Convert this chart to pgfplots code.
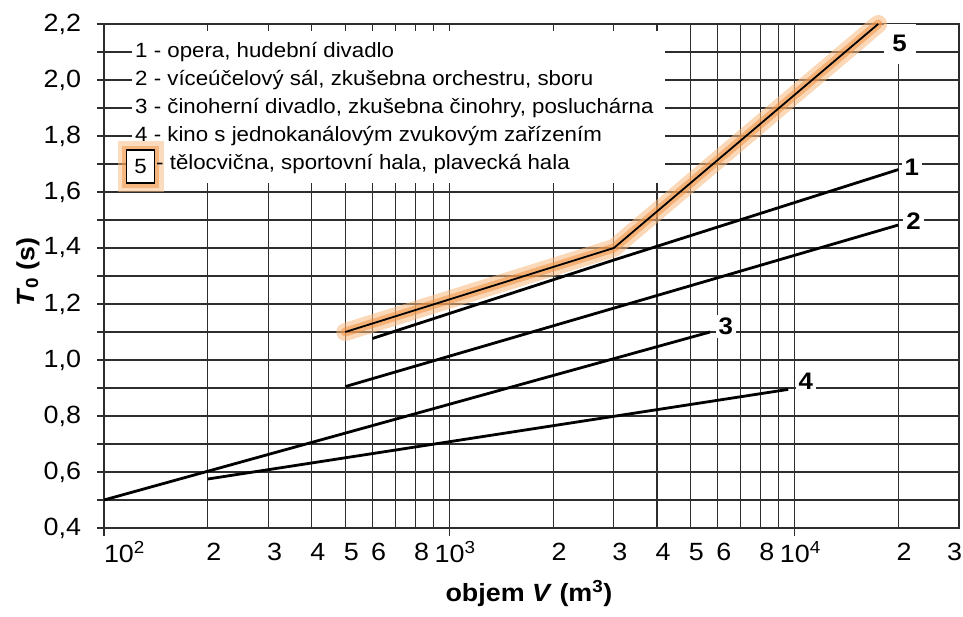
\documentclass[border=0pt]{standalone}
\usepackage{fontspec}
\setmainfont{Liberation Sans}[FakeStretch=1.08]
\usepackage{pgfplots}
\pgfplotsset{compat=1.18}
\definecolor{gridc}{RGB}{45,45,45}
\definecolor{glowA}{RGB}{248,185,125}
\definecolor{glowB}{RGB}{240,145,65}
\newcommand{\tickfont}{\fontsize{25}{30}\selectfont}
\newcommand{\legfont}{\fontsize{20.7}{24}\selectfont}
\newcommand{\labfont}{\fontsize{24}{28}\selectfont\bfseries}
\begin{document}
\begin{tikzpicture}
\useasboundingbox (-104bp,-89bp) rectangle (859bp,528bp);
\begin{axis}[
  scale only axis, width=855bp, height=504bp,
  xmode=log, xmin=100, xmax=30000, ymin=0.4, ymax=2.2,
  clip=false,
  axis line style={gridc, line width=1.4bp},
  grid=both,
  major grid style={gridc, line width=1.1bp},
  minor grid style={gridc, line width=1.1bp},
  tick align=outside, major tick length=7.5bp, minor tick length=0pt,
  tick style={gridc, line width=1.1bp},
  tick pos=left,
  xtick={100,1000,10000},
  xticklabels={\makebox[0pt][l]{\hspace{-6bp}10\textsuperscript{2}},10\textsuperscript{3},10\textsuperscript{4}},
  minor xtick={200,300,400,500,600,700,800,900,2000,3000,4000,5000,6000,7000,8000,9000,20000},
  extra x ticks={200,300,400,500,600,800,2000,3000,4000,5000,6000,8000,20000,30000},
  extra x tick labels={2,3,4,5,6,8,2,3,4,5,6,8,2,\makebox[0pt][r]{3\hspace{3bp}}},
  extra x tick style={major tick length=0pt, grid=none, xticklabel style={yshift=-6bp}},
  xticklabel style={font=\tickfont, anchor=base, yshift=-26.5bp, xshift=6bp},
  ytick={0.4,0.5,0.6,0.7,0.8,0.9,1.0,1.1,1.2,1.3,1.4,1.5,1.6,1.7,1.8,1.9,2.0,2.1,2.2},
  yticklabels={{0,4},{},{0,6},{},{0,8},{},{1,0},{},{1,2},{},{1,4},{},{1,6},{},{1,8},{},{2,0},{},{2,2}},
  yticklabel style={font=\tickfont, xshift=-12bp},
  xlabel={objem \textit{V} (m\textsuperscript{3})},
  xlabel style={at={(axis description cs:0.497,0)}, anchor=base, yshift=-73bp, font=\fontsize{25}{30}\selectfont\bfseries},
  ylabel={\textit{T}\textsubscript{0} (s)},
  ylabel style={at={(axis description cs:-0.089,0.508)}, anchor=center, font=\fontsize{25}{30}\selectfont\bfseries},
]
% legend area (white panel over the grid)
\fill[white] (axis cs:120.5,2.175) rectangle (axis cs:4214,1.632);
\node[anchor=base west, inner sep=0pt, yshift=-6bp, font=\legfont] at (axis cs:123,2.1) {1 - opera, hudební divadlo};
\node[anchor=base west, inner sep=0pt, yshift=-6bp, font=\legfont] at (axis cs:123,2.0) {2 - víceúčelový sál, zkušebna orchestru, sboru};
\node[anchor=base west, inner sep=0pt, yshift=-6bp, font=\legfont] at (axis cs:123,1.9) {3 - činoherní divadlo, zkušebna činohry, posluchárna};
\node[anchor=base west, inner sep=0pt, yshift=-6bp, font=\legfont] at (axis cs:123,1.8) {4 - kino s jednokanálovým zvukovým zařízením};
\node[draw=glowA, line width=18bp, opacity=0.5, minimum width=28bp, minimum height=33bp, inner sep=0pt] at (axis cs:127.6,1.69) {};
\node[draw=glowB, line width=9bp, opacity=0.5, minimum width=28bp, minimum height=33bp, inner sep=0pt] at (axis cs:127.6,1.69) {};
\node[draw=black, fill=white, line width=1.8bp, minimum width=28bp, minimum height=33bp, inner sep=0pt, font=\legfont] at (axis cs:127.6,1.69) {5};
\node[anchor=base west, inner sep=0pt, yshift=-6bp, font=\legfont] at (axis cs:141.5,1.7) {- tělocvična, sportovní hala, plavecká hala};
% curve labels
\node[fill=white, inner sep=0pt, minimum width=32bp, minimum height=40bp, font=\labfont] at (axis cs:20180,2.13) {5};
\node[fill=white, inner sep=3bp, font=\labfont] at (axis cs:21880,1.689) {1};
\node[fill=white, inner sep=3bp, font=\labfont] at (axis cs:22170,1.496) {2};
\node[fill=white, inner sep=3bp, font=\labfont] at (axis cs:6328,1.121) {3};
\node[fill=white, inner sep=3bp, font=\labfont] at (axis cs:10790,0.925) {4};
% curves
\addplot[black, line width=2.8bp] coordinates {(600,1.077) (3000,1.357) (20000,1.68)};
\addplot[black, line width=2.8bp] coordinates {(500,0.905) (20000,1.482)};
\addplot[black, line width=2.8bp] coordinates {(100,0.5) (5700,1.1)};
\addplot[black, line width=2.8bp] coordinates {(200,0.575) (9600,0.895)};
\addplot[glowA, line width=18bp, opacity=0.55, line join=round, line cap=round] coordinates {(500,1.1) (3000,1.40) (17500,2.2)};
\addplot[glowB, line width=9bp, opacity=0.55, line join=round, line cap=round] coordinates {(500,1.1) (3000,1.40) (17500,2.2)};
\addplot[black, line width=1.8bp] coordinates {(500,1.1) (3000,1.40) (17500,2.2)};
\end{axis}
\end{tikzpicture}
\end{document}
